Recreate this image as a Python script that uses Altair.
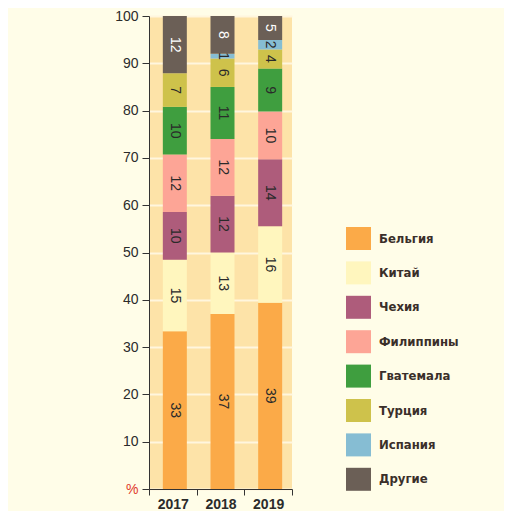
import altair as alt
import pandas as pd

years = ["2017", "2018", "2019"]
countries = ["Бельгия", "Китай", "Чехия", "Филиппины", "Гватемала", "Турция", "Испания", "Другие"]
colors = ["#FBAA48", "#FFF6BE", "#AE5C7B", "#FDA596", "#3F9E3F", "#CEC24B", "#86BDD3", "#6B5F56"]

belgium = [33, 37, 39]
china = [15, 13, 16]
czech = [10, 12, 14]
philippines = [12, 12, 10]
guatemala = [10, 11, 9]
turkey = [7, 6, 4]
spain = [0, 1, 2]
other = [12, 8, 5]

series = [belgium, china, czech, philippines, guatemala, turkey, spain, other]

rows = []
for i, (c, vals) in enumerate(zip(countries, series)):
    for y, v in zip(years, vals):
        rows.append({"year": y, "country": c, "order": i, "share": v})
df = pd.DataFrame(rows)

base = (
    alt.Chart(df)
    .transform_joinaggregate(total="sum(share)", groupby=["year"])
    .transform_window(cum="sum(share)", sort=[alt.SortField("order")], groupby=["year"], frame=[None, 0])
    .transform_calculate(
        y1="100*datum.cum/datum.total",
        y0="100*(datum.cum-datum.share)/datum.total",
        ymid="100*(datum.cum-datum.share/2)/datum.total",
    )
    .transform_filter("datum.share > 0")
)

xenc = alt.X(
    "year:N",
    scale=alt.Scale(paddingInner=0, paddingOuter=0),
    axis=alt.Axis(
        title=None, labelAngle=0, labelFontSize=14, labelFontWeight="bold",
        labelFont="Liberation Sans", labelColor="#2b2b2b", tickBand="extent",
        tickSize=6, tickColor="#333", domainColor="#333", labelPadding=2,
    ),
)

bars = base.mark_bar(size=24, xOffset=2).encode(
    x=xenc,
    y=alt.Y(
        "y0:Q",
        scale=alt.Scale(domain=[0, 100], nice=False),
        axis=alt.Axis(
            title=None, values=list(range(0, 101, 10)), labelFontSize=14,
            labelFont="Liberation Sans", labelColor=alt.condition("datum.value == 0", alt.value("#E03A2A"), alt.value("#2b2b2b")),
            labelExpr="datum.value == 0 ? '%' : datum.label",
            tickSize=7, tickColor="#333", domainColor="#333", labelPadding=4,
            grid=True, gridColor="#FFF6DE", gridWidth=2,
        ),
    ),
    y2="y1:Q",
    color=alt.Color(
        "country:N",
        scale=alt.Scale(domain=countries, range=colors),
        legend=alt.Legend(
            title=None, orient="none", legendX=197, legendY=210,
            symbolType="M-1,-0.92L1,-0.92L1,0.92L-1,0.92Z", symbolSize=625,
            symbolStrokeWidth=0, symbolOpacity=1,
            labelFont="DejaVu Sans Condensed", labelFontWeight="bold",
            labelFontSize=13, labelColor="#3a2f2a", rowPadding=10.4, labelOffset=8,
        ),
    ),
)

labels = base.mark_text(angle=90, fontSize=14, font="Liberation Sans", xOffset=2).encode(
    x="year:N",
    y="ymid:Q",
    text="share:Q",
    color=alt.condition("datum.country == 'Другие'", alt.value("#ffffff"), alt.value("#2a2a2a")),
)

chart = (
    alt.layer(bars, labels)
    .properties(
        width=143, height=473,
        padding={"left": 141, "top": 8, "right": 212, "bottom": 24},
        autosize=alt.AutoSizeParams(type="none"),
        background="#FFFDE8",
    )
    .configure_view(fill="#FDE3A8", stroke=None)
)

chart.save("out.html", embed_options={"renderer": "svg", "actions": False})
